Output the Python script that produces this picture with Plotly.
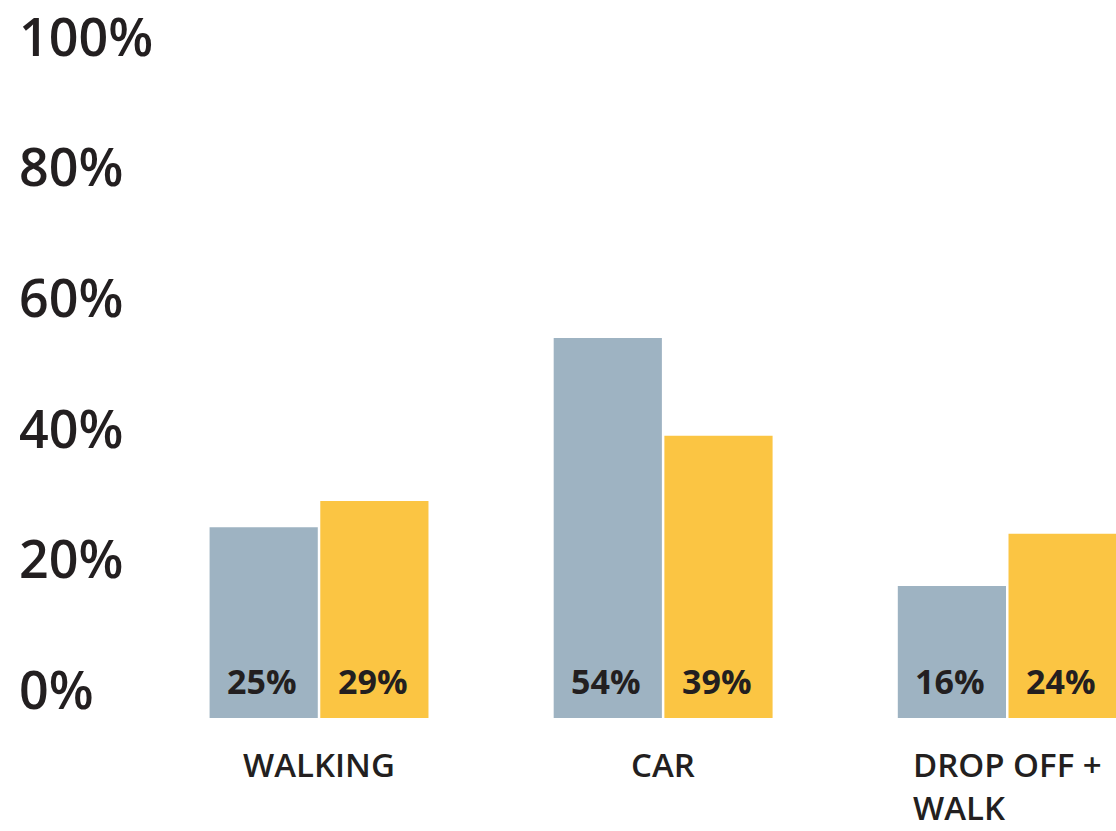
import plotly.graph_objects as go

categories = ["WALKING", "CAR", "DROP OFF +<br>WALK"]
series_a = [25, 54, 16]
series_b = [29, 39, 24]
tick_vals = [0, 20, 40, 60, 80, 100]
tick_text = [f"{v}%" for v in tick_vals]

BLUE = "#9eb3c2"
YELLOW = "#fbc543"
INK = "#231f20"
FONT = "Open Sans"
BASE = -4.24  # bars start slightly below the 0% label, as in the reference

fig = go.Figure()
for vals, col, name in [(series_a, BLUE, "a"), (series_b, YELLOW, "b")]:
    fig.add_trace(go.Bar(x=categories, y=[v - BASE for v in vals], base=BASE,
                         marker_color=col, marker_line_width=0, name=name,
                         hoverinfo="skip"))

annotations = []
for i, c in enumerate(categories):
    for vals, shift in [(series_a, -57), (series_b, 54)]:
        annotations.append(dict(x=c, y=1.36, xref="x", yref="y", text=f"{vals[i]}%",
                                showarrow=False, xshift=shift, yanchor="middle",
                                font=dict(family=FONT, size=34, color=INK, weight=700)))
    annotations.append(dict(x=c, y=0, xref="x", yref="paper", text=c, showarrow=False,
                            yanchor="top", yshift=-21, align="left", borderpad=0,
                            font=dict(family=FONT, size=33, color=INK, weight=600)))

fig.update_layout(
    width=1116, height=831,
    margin=dict(l=16, r=0, t=0, b=111),
    paper_bgcolor="white", plot_bgcolor="white",
    showlegend=False,
    barmode="group", bargap=0.3566, bargroupgap=0.0226,
    xaxis=dict(range=[-0.8806, 2.316], showticklabels=False, showgrid=False,
               zeroline=False, showline=False, ticks=""),
    yaxis=dict(range=[-4.54, 104.4], tickvals=tick_vals, ticktext=tick_text,
               ticklabelposition="inside", ticklabeloverflow="allow",
               showgrid=False, zeroline=False, showline=False, ticks="",
               tickfont=dict(family=FONT, size=52, color=INK, weight=600)),
    annotations=annotations,
)

fig.write_html("out.html", config={"displayModeBar": False},
               post_script="document.body.style.margin='0';")
